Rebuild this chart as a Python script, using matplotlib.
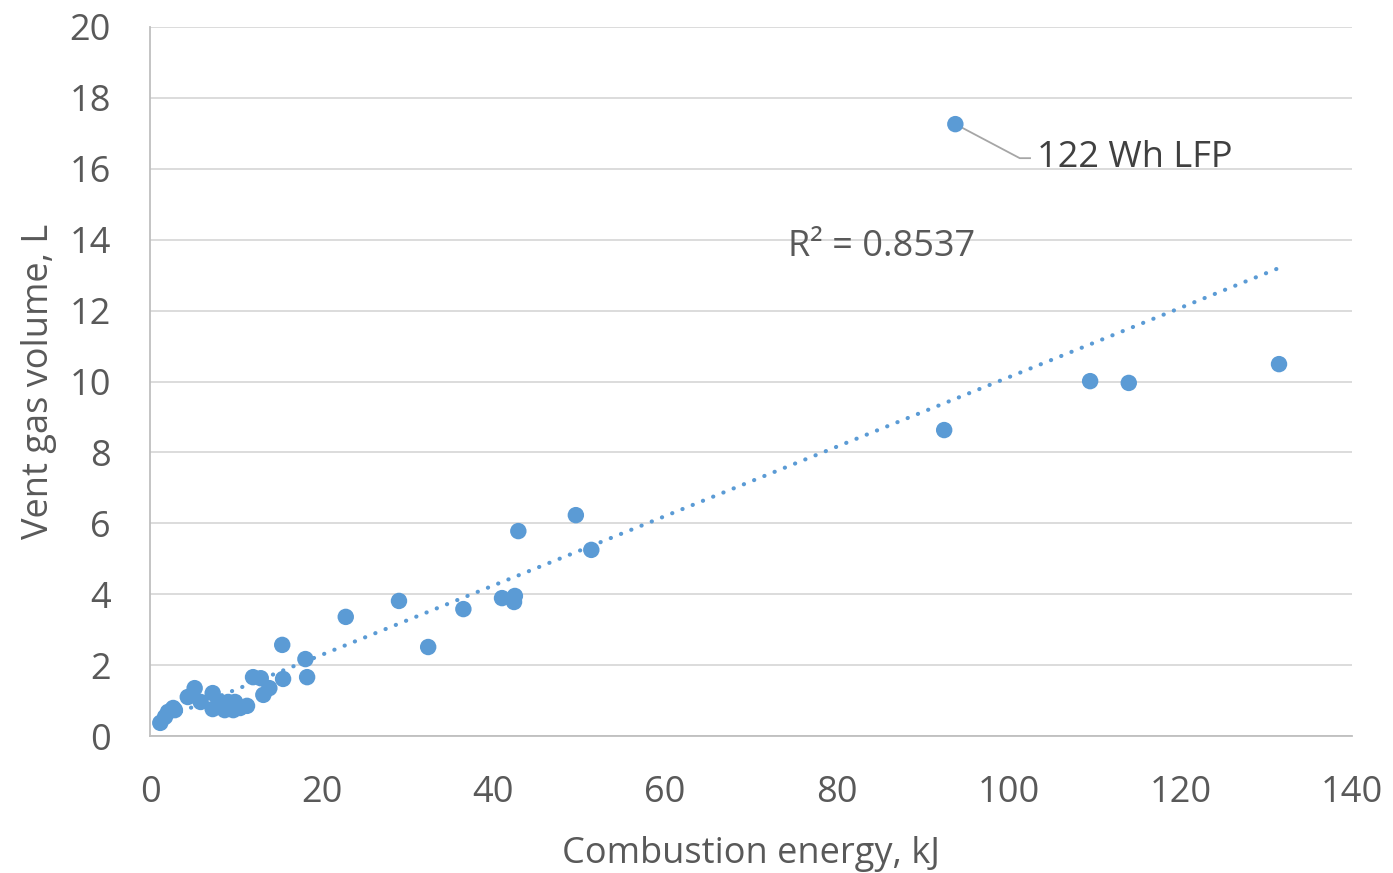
import matplotlib
matplotlib.use("Agg")
import matplotlib.pyplot as plt
import numpy as np

plt.rcParams['font.family'] = ['Open Sans', 'DejaVu Sans']

energy_kj = [93.8, 92.5, 109.5, 114.0, 131.5, 49.6, 51.4, 42.9, 41.0, 42.5, 42.4,
             36.5, 32.4, 29.0, 22.8, 15.4, 18.1, 18.3, 15.5,
             12.0, 12.9, 13.9, 13.2, 7.3, 5.2, 4.4, 5.9, 7.3, 8.4, 9.1, 9.9,
             10.5, 11.3, 8.7, 9.7, 2.1, 2.7, 1.75, 1.2, 2.9]
vent_l = [17.26, 8.63, 10.01, 9.96, 10.49, 6.23, 5.25, 5.78, 3.89, 3.95, 3.78,
          3.58, 2.51, 3.81, 3.36, 2.57, 2.17, 1.66, 1.61,
          1.66, 1.63, 1.35, 1.16, 1.21, 1.35, 1.10, 0.96, 0.76, 0.93, 0.96, 0.96,
          0.79, 0.85, 0.73, 0.73, 0.68, 0.79, 0.54, 0.37, 0.73]
x_ticks = [0, 20, 40, 60, 80, 100, 120, 140]
y_ticks = [0, 2, 4, 6, 8, 10, 12, 14, 16, 18, 20]
r2_text = "R² = 0.8537"
callout = "122 Wh LFP"

blue = '#5B9BD5'
txt = '#595959'

fig = plt.figure(figsize=(13.93, 8.73), dpi=100)
ax = fig.add_axes([150/1393, 1-736/873, (1352-150)/1393, (736-27)/873])

x = np.array(energy_kj)
y = np.array(vent_l)
# trendline from the data
m, b = np.polyfit(x, y, 1)
xs = np.array([x.min(), x.max()])
ax.plot(xs, m*xs + b, color=blue, lw=3.0, linestyle=(0, (0.05, 2.6)),
        dash_capstyle='round', zorder=2)
ax.scatter(x, y, s=140, color=blue, edgecolors='none', zorder=3)

ax.set_xlim(0, 140)
ax.set_ylim(0, 20)
ax.set_xticks(x_ticks)
ax.set_yticks(y_ticks)
ax.tick_params(length=0, labelsize=26, colors=txt)
ax.tick_params(axis='x', pad=28)
ax.tick_params(axis='y', pad=28)
ax.grid(axis='y', color='#D9D9D9', lw=1.3)
ax.set_axisbelow(True)
for s in ['top', 'right']:
    ax.spines[s].set_visible(False)
for s in ['left', 'bottom']:
    ax.spines[s].set_color('#BFBFBF')
    ax.spines[s].set_linewidth(1.3)

ax.set_xlabel("Combustion energy, kJ", fontsize=26, color=txt, labelpad=18)
ax.set_ylabel("Vent gas volume, L", fontsize=26, color=txt, labelpad=9)

# annotation
ax.plot([93.8, 101.3, 102.5], [17.26, 16.3, 16.3], color='#A6A6A6', lw=1.3, zorder=2)
ax.text(103.3, 16.3, callout, fontsize=26, color='#404040', va='center', ha='left')
ax.text(74.3, 13.8, r2_text, fontsize=26, color=txt, va='center', ha='left')

fig.savefig("out.png", dpi=100)
